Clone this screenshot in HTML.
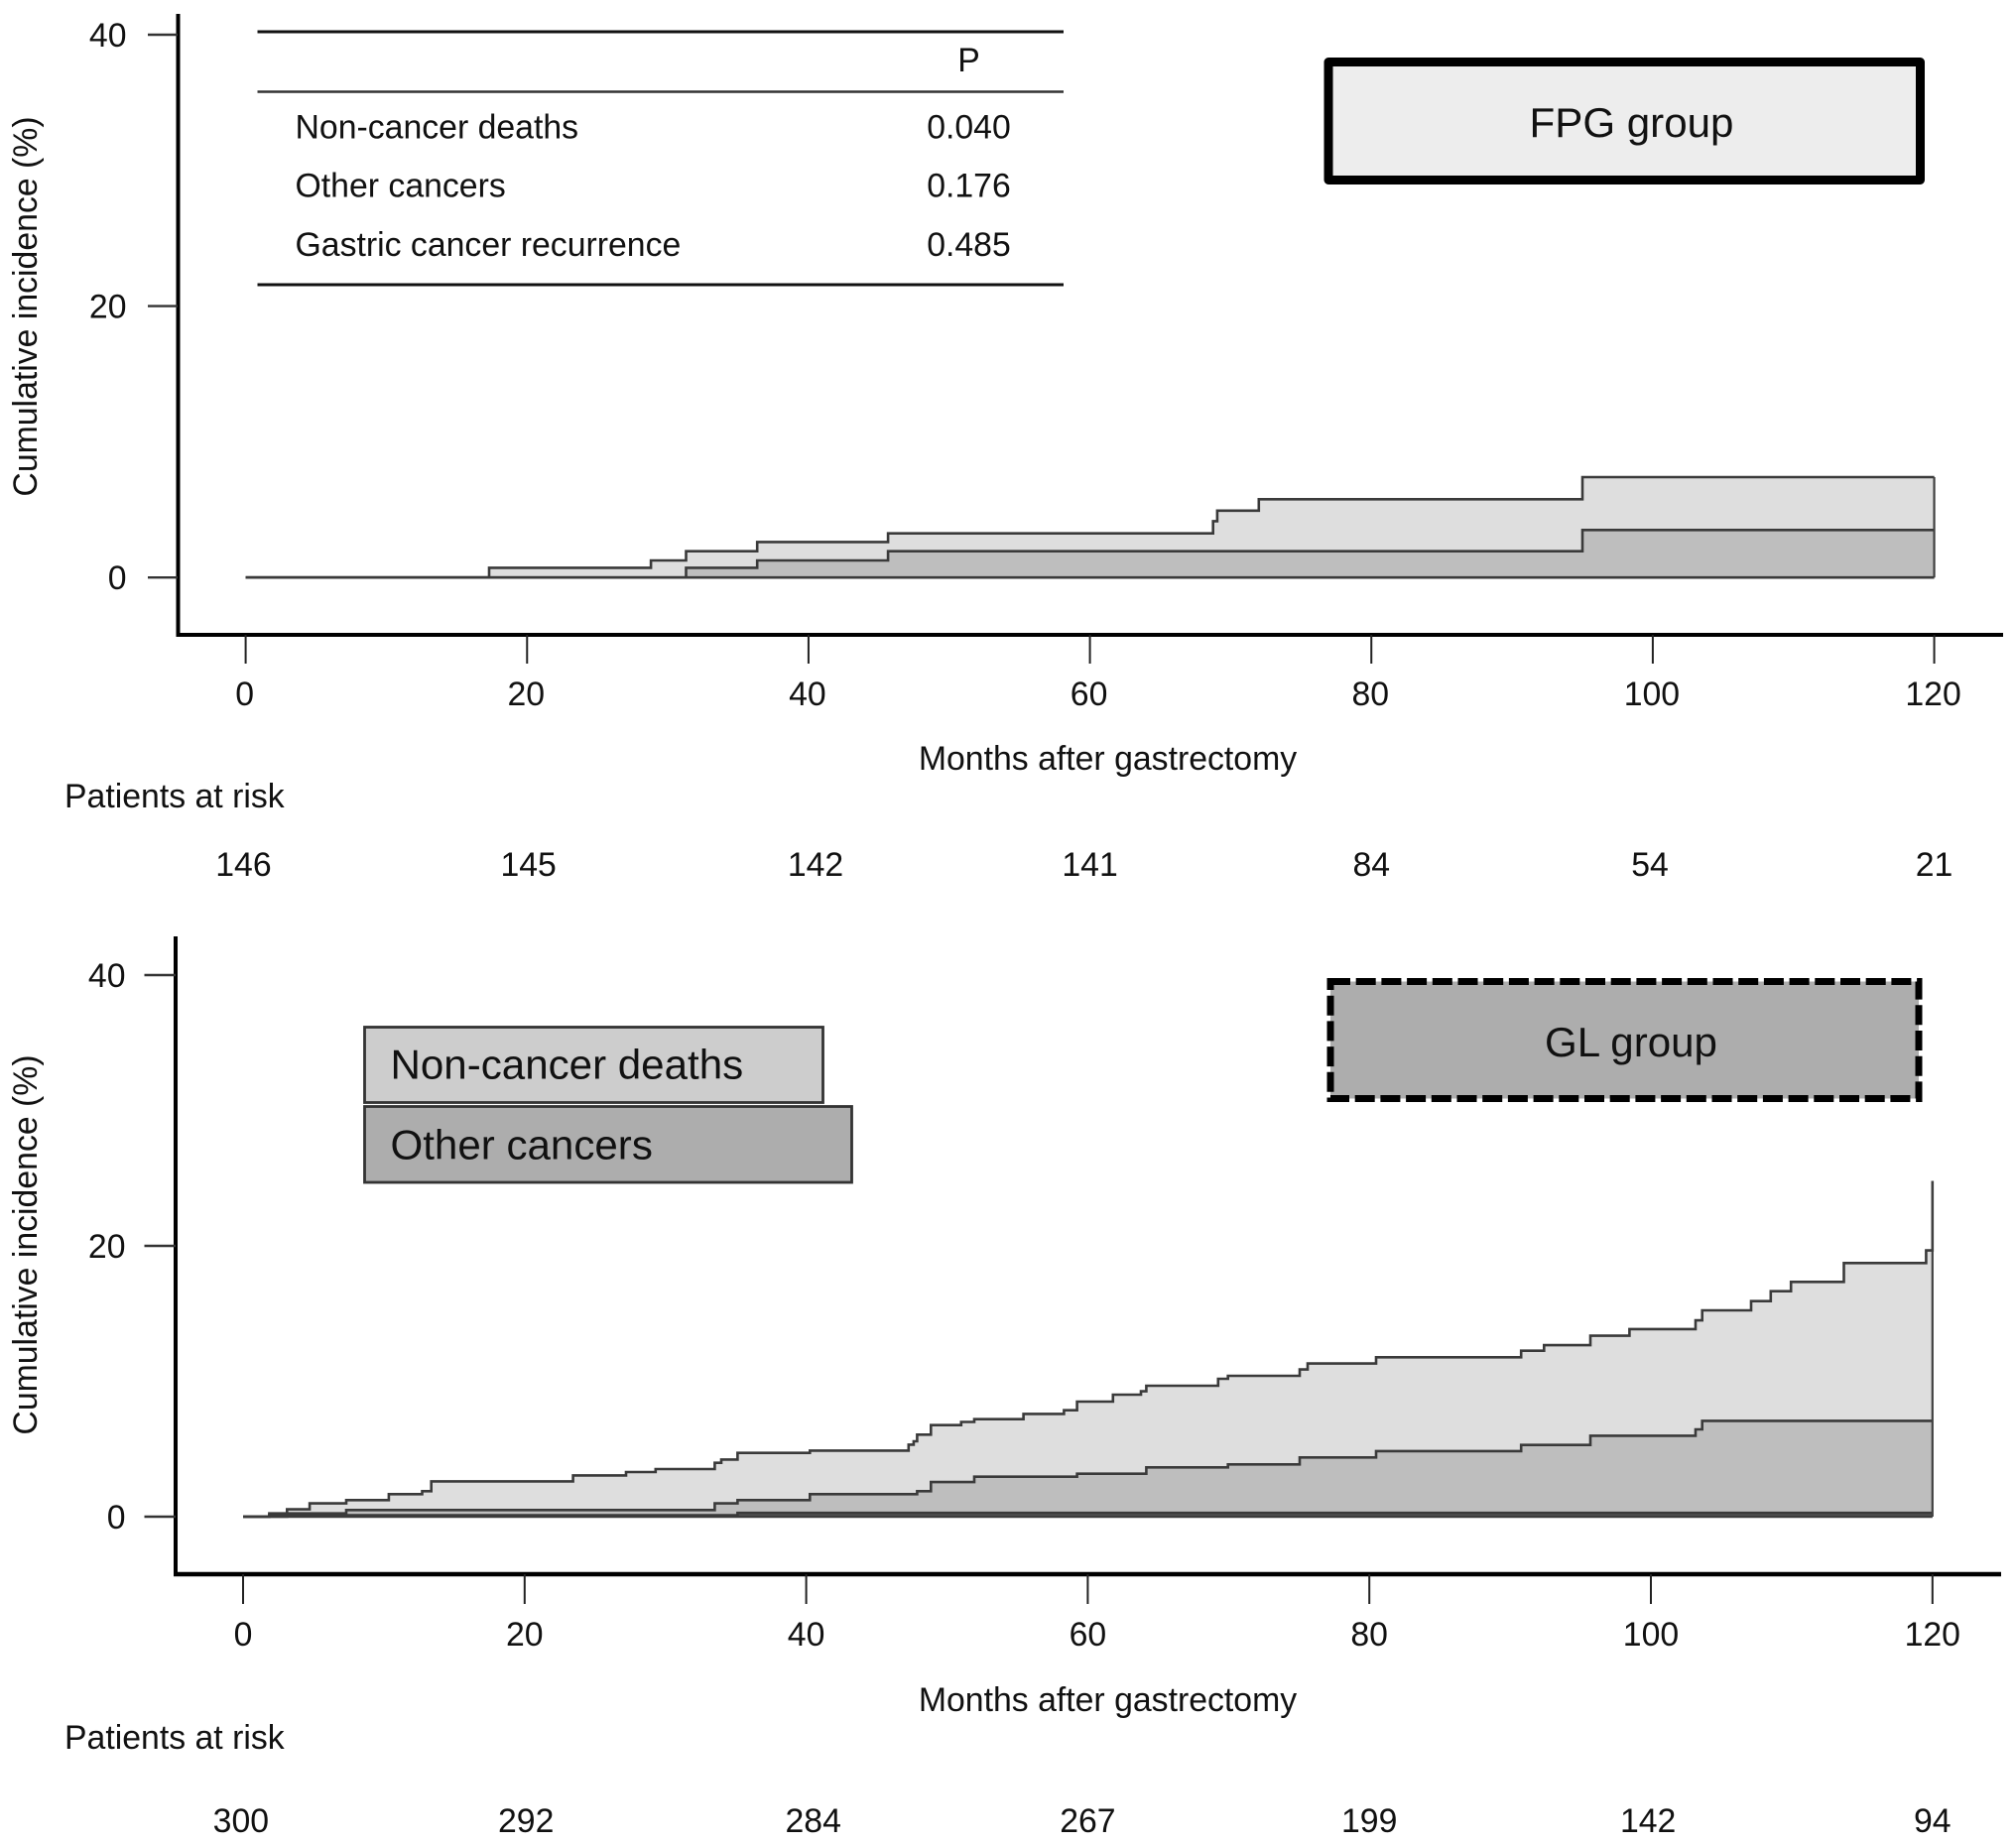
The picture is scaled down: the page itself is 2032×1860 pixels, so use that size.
<!DOCTYPE html>
<html lang="en">
<head>
<meta charset="utf-8">
<title>Cumulative incidence by group</title>
<style>
html,body{margin:0;padding:0;background:#fff;width:2032px;height:1860px;overflow:hidden}
svg{display:block}
text{font-family:"Liberation Sans",Arial,sans-serif;fill:#111}
.t{font-size:33.8px}
.b{font-size:42.1px}
.m{text-anchor:middle}
.e{text-anchor:end}
</style>
</head>
<body>
<svg id="chart" xmlns="http://www.w3.org/2000/svg" width="2032" height="1860" viewBox="0 0 2032 1860">
  <rect x="0" y="0" width="2032" height="1860" fill="#ffffff"/>

  <g id="fpg-panel">
    <g id="fpg-marks"></g>
    <line x1="179.5" y1="14" x2="179.5" y2="642" stroke="#000" stroke-width="4"/>
    <line x1="178" y1="640" x2="2019" y2="640" stroke="#000" stroke-width="4"/>
    <g id="fpg-axes"></g>
    <text class="t m" transform="translate(37 309) rotate(-90)">Cumulative incidence (%)</text>
    <text class="t m" x="1116.5" y="776">Months after gastrectomy</text>
    <text class="t" x="65" y="814">Patients at risk</text>

    <g>
      <line x1="259.5" y1="32" x2="1072" y2="32" stroke="#111" stroke-width="3"/>
      <line x1="259.5" y1="92.5" x2="1072" y2="92.5" stroke="#333" stroke-width="2.6"/>
      <line x1="259.5" y1="287" x2="1072" y2="287" stroke="#111" stroke-width="3"/>
      <text class="t m" x="976.5" y="72">P</text>
      <text class="t" x="297.5" y="139.5">Non-cancer deaths</text>
      <text class="t m" x="976.5" y="139.5">0.040</text>
      <text class="t" x="297.5" y="198.5">Other cancers</text>
      <text class="t m" x="976.5" y="198.5">0.176</text>
      <text class="t" x="297.5" y="258">Gastric cancer recurrence</text>
      <text class="t m" x="976.5" y="258">0.485</text>
    </g>

    <g>
      <rect x="1339" y="62.5" width="596.5" height="119" fill="#ededed" stroke="#000" stroke-width="9" stroke-linejoin="round"/>
      <text class="b m" x="1644.5" y="138">FPG group</text>
    </g>
  </g>

  <g id="gl-panel">
    <g id="gl-marks"></g>
    <line x1="177" y1="944" x2="177" y2="1589" stroke="#000" stroke-width="4"/>
    <line x1="175" y1="1587" x2="2017" y2="1587" stroke="#000" stroke-width="4.5"/>
    <g id="gl-axes"></g>
    <text class="t m" transform="translate(37 1255) rotate(-90)">Cumulative incidence (%)</text>
    <text class="t m" x="1116.5" y="1725">Months after gastrectomy</text>
    <text class="t" x="65" y="1763">Patients at risk</text>

    <g>
      <rect x="367.5" y="1035.5" width="462" height="76" fill="#cdcdcd" stroke="#333" stroke-width="2.8"/>
      <text class="b" x="393.5" y="1087.5">Non-cancer deaths</text>
      <rect x="367.5" y="1115.5" width="491" height="76.5" fill="#adadad" stroke="#333" stroke-width="2.8"/>
      <text class="b" x="393.5" y="1168.5">Other cancers</text>
    </g>

    <g>
      <rect x="1341" y="989.5" width="593" height="118" fill="#adadad" stroke="#000" stroke-width="7" stroke-dasharray="20 5.7"/>
      <text class="b m" x="1644" y="1065">GL group</text>
    </g>
  </g>
</svg>

<script>
// Axis definitions
const xTickValues = [0, 20, 40, 60, 80, 100, 120];
const yTickValues = [0, 20, 40];
const riskMonths = [-0.15, 20.1, 40.5, 60, 80, 99.8, 120];

// FPG group
const fpgRisk = [146, 145, 142, 141, 84, 54, 21];
const fpgTopMonths = [17.3, 28.8, 31.3, 36.35, 45.65, 68.75, 69.05, 72.0, 95.0];
const fpgTopValues = [0.72, 1.26, 1.94, 2.62, 3.25, 4.15, 4.93, 5.77, 7.4];
const fpgMidMonths = [31.3, 36.35, 45.65, 95.0];
const fpgMidValues = [0.72, 1.26, 1.94, 3.5];

// GL group
const glRisk = [300, 292, 284, 267, 199, 142, 94];
const glTopMonths = [1.86, 3.12, 4.73, 7.33, 10.35, 12.72, 13.37, 23.44, 27.2, 29.3, 33.5, 33.97, 35.12, 40.26, 47.27, 47.63, 47.88, 48.86, 51.01, 51.94, 55.43, 58.31, 59.24, 61.79, 63.78, 64.16, 69.26, 69.96, 75.05, 75.62, 80.48, 90.78, 92.41, 95.7, 98.48, 103.17, 103.64, 107.12, 108.51, 109.95, 113.71, 119.55, 120];
const glTopValues = [0.24, 0.54, 0.98, 1.22, 1.66, 1.88, 2.61, 3.05, 3.3, 3.52, 3.98, 4.22, 4.71, 4.88, 5.32, 5.57, 6.06, 6.76, 7.0, 7.2, 7.59, 7.86, 8.5, 9.01, 9.26, 9.67, 10.18, 10.4, 10.87, 11.31, 11.77, 12.26, 12.67, 13.36, 13.85, 14.5, 15.24, 15.92, 16.65, 17.34, 18.73, 19.66, 24.8];
const glMidMonths = [3.12, 7.33, 33.5, 35.12, 40.26, 47.88, 48.86, 51.94, 59.24, 64.16, 69.96, 75.05, 80.48, 90.78, 95.7, 103.17, 103.64];
const glMidValues = [0.24, 0.49, 0.98, 1.22, 1.66, 1.88, 2.56, 2.95, 3.17, 3.64, 3.86, 4.37, 4.84, 5.3, 5.98, 6.45, 7.08];
const glLowMonths = [1.86, 35.12];
const glLowValues = [0.1, 0.28];

const SVGNS = 'http://www.w3.org/2000/svg';

// Axis functions
function xFpg(m) { return 247.6 + 14.183 * m; }
function yFpg(v) { return 582.2 - 13.68 * v; }
function xGl(m) { return 245 + 14.19 * m; }
function yGl(v) { return 1529 - 13.65 * v; }

function make(parent, tag, attrs, text) {
  const el = document.createElementNS(SVGNS, tag);
  for (const k in attrs) el.setAttribute(k, attrs[k]);
  if (text !== undefined) el.textContent = text;
  parent.appendChild(el);
  return el;
}

function stepPoints(months, values, x, y) {
  const pts = [[x(0), y(0)]];
  let prev = 0;
  for (let i = 0; i < months.length; i++) {
    pts.push([x(months[i]), y(prev)]);
    pts.push([x(months[i]), y(values[i])]);
    prev = values[i];
  }
  pts.push([x(120), y(prev)]);
  return pts;
}

function toPath(pts) {
  return 'M' + pts.map(function (p) { return p[0].toFixed(1) + ' ' + p[1].toFixed(1); }).join('L');
}

function drawArea(parent, months, values, x, y, fill) {
  const pts = stepPoints(months, values, x, y);
  const d = toPath(pts) + 'L' + x(120).toFixed(1) + ' ' + y(0).toFixed(1) + 'Z';
  const el = make(parent, 'path', { d: d, fill: fill, stroke: 'none' });
  
  
}

function drawLine(parent, months, values, x, y) {
  const pts = stepPoints(months, values, x, y);
  const el = make(parent, 'path', { d: toPath(pts), fill: 'none', stroke: '#3a3a3a', 'stroke-width': 2.6 });
  
  
}

function drawEdges(parent, maxValue, x, y) {
  const right = make(parent, 'line', { x1: x(120), y1: y(0), x2: x(120), y2: y(maxValue), stroke: '#404040', 'stroke-width': 2.2 });
  
  
  const base = make(parent, 'line', { x1: x(0), y1: y(0), x2: x(120), y2: y(0), stroke: '#3a3a3a', 'stroke-width': 2.6 });
  
  
}

function drawAxes(parent, x, y, cfg) {
  xTickValues.forEach(function (m, i) {
    const tick = make(parent, 'line', { x1: x(m), y1: cfg.axisY, x2: x(m), y2: cfg.tickEnd, stroke: '#222', 'stroke-width': 2 });
    
    
    const label = make(parent, 'text', { class: 't m', x: x(m) + cfg.labelDx, y: cfg.tickBase }, String(m));
    
    
    const risk = make(parent, 'text', { class: 't m', x: x(riskMonths[i]), y: cfg.riskBase }, String(cfg.risk[i]));
    
    
  });
  yTickValues.forEach(function (v) {
    const tick = make(parent, 'line', { x1: cfg.yTickLeft, y1: y(v), x2: cfg.axisX, y2: y(v), stroke: '#333', 'stroke-width': 2.4 });
    
    
    const label = make(parent, 'text', { class: 't e', x: cfg.yLabelRight, y: y(v) + 12 }, String(v));
    
    
  });
}

// FPG panel
const fpgMarks = document.getElementById('fpg-marks');
drawArea(fpgMarks, fpgTopMonths, fpgTopValues, xFpg, yFpg, '#dedede');
drawArea(fpgMarks, fpgMidMonths, fpgMidValues, xFpg, yFpg, '#bebebe');
drawLine(fpgMarks, fpgTopMonths, fpgTopValues, xFpg, yFpg);
drawLine(fpgMarks, fpgMidMonths, fpgMidValues, xFpg, yFpg);
drawEdges(fpgMarks, fpgTopValues[fpgTopValues.length - 1], xFpg, yFpg);
drawAxes(document.getElementById('fpg-axes'), xFpg, yFpg, {
  axisY: 640, tickEnd: 669, tickBase: 711, riskBase: 883, labelDx: -1,
  axisX: 179, yTickLeft: 149, yLabelRight: 127.5, risk: fpgRisk
});

// GL panel
const glMarks = document.getElementById('gl-marks');
drawArea(glMarks, glTopMonths, glTopValues, xGl, yGl, '#dedede');
drawArea(glMarks, glMidMonths, glMidValues, xGl, yGl, '#bebebe');
drawArea(glMarks, glLowMonths, glLowValues, xGl, yGl, '#555555');
drawLine(glMarks, glTopMonths, glTopValues, xGl, yGl);
drawLine(glMarks, glMidMonths, glMidValues, xGl, yGl);
drawLine(glMarks, glLowMonths, glLowValues, xGl, yGl);
drawEdges(glMarks, glTopValues[glTopValues.length - 1], xGl, yGl);
drawAxes(document.getElementById('gl-axes'), xGl, yGl, {
  axisY: 1587, tickEnd: 1617, tickBase: 1659, riskBase: 1847, labelDx: 0,
  axisX: 177, yTickLeft: 145.5, yLabelRight: 126.5, risk: glRisk
});
</script>
</body>
</html>
